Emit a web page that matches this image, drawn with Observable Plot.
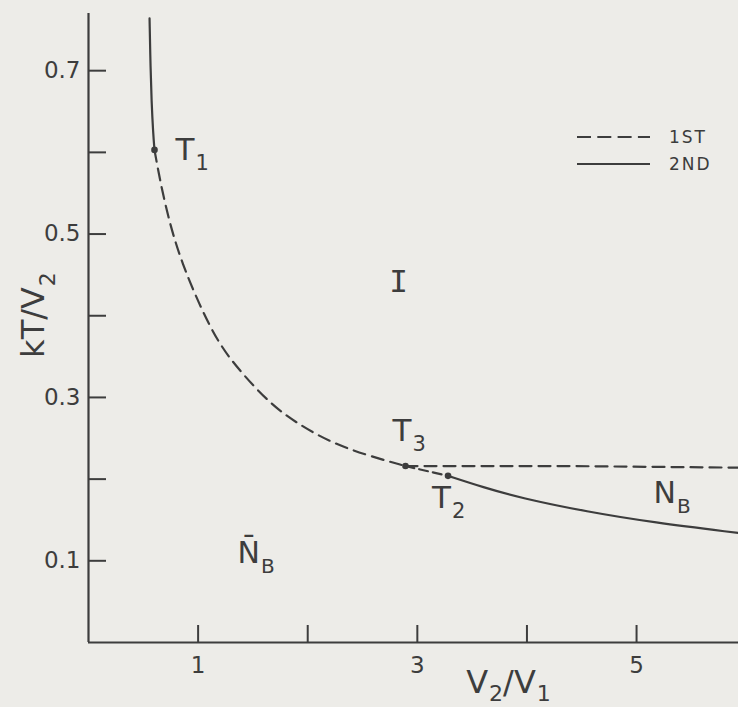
<!DOCTYPE html>
<html>
<head>
<meta charset="utf-8">
<script src="https://cdn.jsdelivr.net/npm/d3@7"></script>
<script src="https://cdn.jsdelivr.net/npm/@observablehq/plot@0.6"></script>
<style>
  html, body { margin: 0; padding: 0; background: #edece8; }
  #wrap { position: relative; width: 738px; height: 707px; overflow: hidden; background: #edece8; }
  #legend { position: absolute; left: 0; top: 0; width: 738px; height: 707px; pointer-events: none; }
  .lg { position: absolute; font-family: "DejaVu Sans", sans-serif; font-size: 17px; letter-spacing: 2px; color: #3c3c3c; line-height: 17px; }
</style>
</head>
<body>
<div id="wrap"></div>
<script>
// ---- data ----
// 2nd-order line, upper part (top of chart down to T1)
const upperX = [0.557, 0.566, 0.575, 0.590, 0.602];
const upperY = [0.764, 0.703, 0.663, 0.623, 0.603];
// 1st-order line, curved (T1 -> T3)
const firstCurveX = [0.602, 0.657, 0.748, 0.855, 1.006, 1.189, 1.402, 1.661, 1.904, 2.208, 2.543, 2.892];
const firstCurveY = [0.603, 0.562, 0.509, 0.464, 0.415, 0.365, 0.329, 0.292, 0.268, 0.245, 0.229, 0.216];
// 1st-order line, short metastable part (T3 -> T2)
const firstLinkX = [2.892, 3.28];
const firstLinkY = [0.216, 0.204];
// 1st-order line, flat (T3 -> right)
const firstFlatX = [2.892, 4.40, 5.93];
const firstFlatY = [0.216, 0.216, 0.214];
// 2nd-order line, lower part (T2 -> right)
const lowerX = [3.28, 3.60, 3.94, 4.55, 5.15, 5.93];
const lowerY = [0.204, 0.190, 0.177, 0.160, 0.147, 0.134];
// special points
const pointNames = ["T_1", "T_2", "T_3"];
const pointX = [0.602, 3.28, 2.892];
const pointY = [0.603, 0.204, 0.216];
// region labels
const regionNames = ["I", "N_B", "N\u0304_B"];
const regionX = [2.83, 5.155, 1.36];
const regionY = [0.441, 0.183, 0.1095];
// ticks
const xTicks = [1, 2, 3, 4, 5];
const xTickLabels = [1, 3, 5];
const yTicks = [0.1, 0.2, 0.3, 0.4, 0.5, 0.6, 0.7];
const yTickLabels = [0.1, 0.3, 0.5, 0.7];
const xTitle = "V_2/V_1";
const yTitle = "kT/V_2";
const legendNames = ["1ST", "2ND"];

// ---- build tables ----
const zipXY = (xs, ys) => xs.map((x, i) => ({x, y: ys[i]}));
const upper = zipXY(upperX, upperY);
const firstCurve = zipXY(firstCurveX, firstCurveY);
const firstLink = zipXY(firstLinkX, firstLinkY);
const firstFlat = zipXY(firstFlatX, firstFlatY);
const lower = zipXY(lowerX, lowerY);
const points = pointNames.map((name, i) => ({name, x: pointX[i], y: pointY[i]}));
const regions = regionNames.map((name, i) => ({name, x: regionX[i], y: regionY[i]}));

const ink = "#3d3d3d";
const W = 738, H = 707;
const mL = 88, mR = 0, mT = 13, mB = 65;
const dash = "12,7";
const lw = 2.2;
const font = "DejaVu Sans";

const chart = Plot.plot({
  width: W, height: H,
  marginLeft: mL, marginRight: mR, marginTop: mT, marginBottom: mB,
  x: {domain: [0, 5.93], label: null},
  y: {domain: [0, 0.77], label: null},
  style: {background: "transparent", fontFamily: font, fontSize: "23px", color: ink},
  marks: [
    // axis lines
    Plot.ruleX([0], {stroke: ink, strokeWidth: lw}),
    Plot.ruleY([0], {stroke: ink, strokeWidth: lw}),
    // inward ticks
    Plot.tickY(yTicks, {y: d => d, stroke: ink, strokeWidth: 2, insetRight: (W - mL - mR) - 18}),
    Plot.tickX(xTicks, {x: d => d, stroke: ink, strokeWidth: 2, insetTop: (H - mT - mB) - 17}),
    // tick labels
    Plot.axisY(yTickLabels, {tickSize: 0, tickPadding: 8, label: null, tickFormat: d => String(d), fontSize: 23, fontFamily: font, fill: ink}),
    Plot.axisX(xTickLabels, {tickSize: 0, tickPadding: 14, label: null, tickFormat: d => String(d), fontSize: 23, fontFamily: font, fill: ink}),
    // curves
    Plot.line(upper, {x: "x", y: "y", stroke: ink, strokeWidth: lw, curve: "basis"}),
    Plot.line(firstCurve, {x: "x", y: "y", stroke: ink, strokeWidth: lw, strokeDasharray: dash, curve: "basis"}),
    Plot.line(firstLink, {x: "x", y: "y", stroke: ink, strokeWidth: lw, strokeDasharray: "9,5"}),
    Plot.line(firstFlat, {x: "x", y: "y", stroke: ink, strokeWidth: lw, strokeDasharray: dash}),
    Plot.line(lower, {x: "x", y: "y", stroke: ink, strokeWidth: lw, curve: "basis"}),
    // special points
    Plot.dot(points, {x: "x", y: "y", r: 3.3, fill: ink, stroke: "none"}),
    // point labels
    Plot.text(points.filter(d => d.name === "T_1"), {x: "x", y: "y", text: "name", textAnchor: "start", lineAnchor: "middle", dx: 21, dy: 0, fontSize: 31, fill: ink}),
    Plot.text(points.filter(d => d.name === "T_3"), {x: "x", y: "y", text: "name", textAnchor: "start", lineAnchor: "middle", dx: -13, dy: -35, fontSize: 31, fill: ink}),
    Plot.text(points.filter(d => d.name === "T_2"), {x: "x", y: "y", text: "name", textAnchor: "start", lineAnchor: "middle", dx: -16, dy: 22, fontSize: 31, fill: ink}),
    // region labels
    Plot.text(regions.filter(d => d.name === "I"), {x: "x", y: "y", text: "name", textAnchor: "middle", lineAnchor: "middle", fontSize: 31, fontFamily: "DejaVu Sans Mono", fill: ink}),
    Plot.text(regions.filter(d => d.name !== "I"), {x: "x", y: "y", text: "name", textAnchor: "start", lineAnchor: "middle", fontSize: 30, fill: ink}),
    // axis titles
    Plot.text([yTitle], {text: d => d, frameAnchor: "left", textAnchor: "middle", lineAnchor: "middle", rotate: -90, dx: -55, dy: -13, fontSize: 32, fill: ink}),
    Plot.text([xTitle], {text: d => d, frameAnchor: "bottom", textAnchor: "middle", lineAnchor: "middle", dx: 95, dy: 40, fontSize: 32, fill: ink})
  ]
});

// turn "X_s" into X with a real subscript tspan
d3.select(chart).selectAll("text").each(function() {
  const t = this.textContent;
  if (!t.includes("_")) return;
  const fs = parseFloat(getComputedStyle(this).fontSize) || parseFloat(this.parentNode.getAttribute("font-size")) || 30;
  const sub = Math.round(fs * 0.68);
  const shift = Math.round(fs * (t === xTitle ? 0.26 : 0.33));
  const parts = t.split(/_(.)/);
  const el = d3.select(this);
  el.text(null);
  let down = false;
  parts.forEach((p, i) => {
    if (p === "") return;
    const isSub = i % 2 === 1;
    const ts = el.append("tspan").text(p);
    if (isSub) {
      ts.attr("font-size", sub);
      if (!down) { ts.attr("dy", shift); down = true; }
      ts.attr("dx", 1);
    } else {
      if (down) { ts.attr("dy", -shift); down = false; }
    }
  });
});

document.getElementById("wrap").appendChild(chart);

// legend (inside the plot area, top right)
const lg = d3.select("#wrap").append("div").attr("id", "legend");
const lsvg = lg.append("svg").attr("width", W).attr("height", H).style("position", "absolute").style("left", 0).style("top", 0);
const rowsY = [137, 164];
legendNames.forEach((name, i) => {
  lsvg.append("line").attr("x1", 577).attr("x2", 650).attr("y1", rowsY[i]).attr("y2", rowsY[i])
    .attr("stroke", ink).attr("stroke-width", 2.2)
    .attr("stroke-dasharray", i === 0 ? "14,6.3" : null);
  lg.append("div").attr("class", "lg").style("left", "669px").style("top", (rowsY[i] - 8) + "px").text(name);
});
</script>
</body>
</html>
